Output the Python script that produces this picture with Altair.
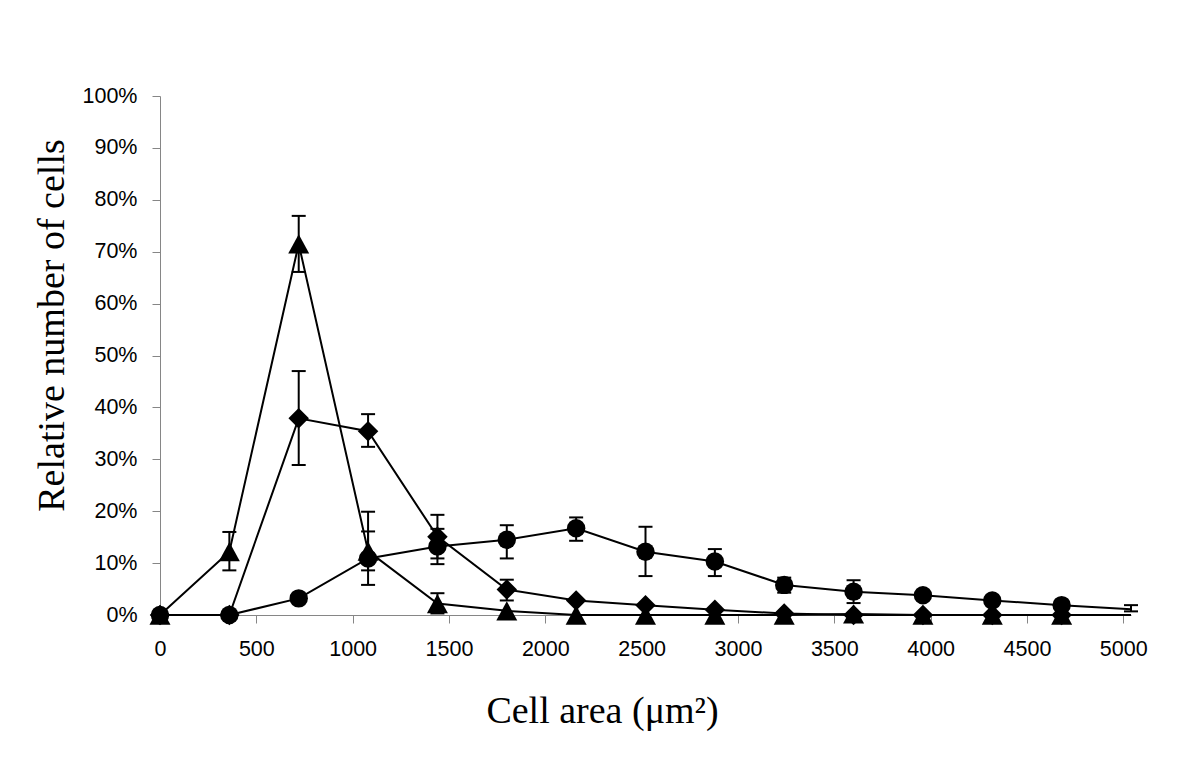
import altair as alt
import pandas as pd

# Cell area bins (µm²)
x_vals = [0, 360, 720, 1080, 1440, 1800, 2160, 2520, 2880, 3240, 3600, 3960, 4320, 4680, 5040]

# Relative number of cells (%) per series
tri_vals = [0, 12.2, 71.5, 12.3, 2.2, 0.8, 0, 0, 0, 0, 0.2, 0, 0, 0, 0]
dia_vals = [0, 0, 37.9, 35.4, 15.1, 4.9, 2.8, 1.9, 1.0, 0.3, 0, 0, 0, 0, 0]
cir_vals = [0, 0, 3.2, 10.9, 13.2, 14.5, 16.7, 12.2, 10.3, 5.8, 4.5, 3.8, 2.8, 1.9, 1.1]

# Error bar ends (low, high) in %, None where no bar is visible
tri_lo = [None, 8.6, 66.1, 8.6, 0.3, None, None, None, None, None, None, None, None, None, None]
tri_hi = [None, 16.0, 76.9, 16.1, 4.2, None, None, None, None, None, None, None, None, None, None]
dia_lo = [None, None, 28.9, 32.4, 10.9, 2.8, None, None, None, None, None, None, None, None, None]
dia_hi = [None, None, 47.0, 38.7, 19.3, 6.8, None, None, None, None, None, None, None, None, None]
cir_lo = [None, None, None, 5.8, 9.8, 10.9, 14.3, 7.5, 7.5, 4.3, 2.3, None, None, None, 0.7]
cir_hi = [None, None, None, 19.9, 16.6, 17.3, 18.8, 17.0, 12.7, 7.2, 6.7, None, None, None, 1.9]

x_ticks = [0, 500, 1000, 1500, 2000, 2500, 3000, 3500, 4000, 4500, 5000]
y_ticks = [0, 10, 20, 30, 40, 50, 60, 70, 80, 90, 100]

series = [
    ("triangle", tri_vals, tri_lo, tri_hi),
    ("diamond", dia_vals, dia_lo, dia_hi),
    ("circle", cir_vals, cir_lo, cir_hi),
]

rows, err_rows = [], []
for name, vals, lo, hi in series:
    for i, x in enumerate(x_vals):
        rows.append({"series": name, "x": x, "y": vals[i], "last": i == len(x_vals) - 1})
        if lo[i] is not None:
            err_rows.append({"series": name, "x": x, "lo": lo[i], "hi": hi[i]})

df = pd.DataFrame(rows)
edf = pd.DataFrame(err_rows)

x_axis = alt.Axis(values=x_ticks, format="d", labelFlush=False, title="Cell area (μm²)",
                  titleX=442, titleY=107, titleBaseline="alphabetic", titleAlign="center")
y_axis = alt.Axis(values=y_ticks, labelExpr="datum.value + '%'",
                  title="Relative number of cells", titleAngle=270, titleX=-97, titleY=229,
                  titleBaseline="alphabetic", titleAlign="center")
x_scale = alt.Scale(domain=[0, 5040], nice=False)
y_scale = alt.Scale(domain=[0, 100], nice=False)


def X(field):
    return alt.X(f"{field}:Q", scale=x_scale, axis=x_axis)


def Y(field):
    return alt.Y(f"{field}:Q", scale=y_scale, axis=y_axis)


lines = alt.Chart(df).mark_line(color="black", strokeWidth=2).encode(
    x=X("x"), y=Y("y"), detail="series:N", order="x:Q"
)

err_rule = alt.Chart(edf).mark_rule(color="black", strokeWidth=2).encode(
    x=X("x"), y=Y("lo"), y2="hi:Q"
)
cap_lo = alt.Chart(edf).mark_rule(color="black", strokeWidth=2, xOffset=-7, x2Offset=7).encode(
    x=X("x"), x2="x:Q", y=Y("lo")
)
cap_hi = alt.Chart(edf).mark_rule(color="black", strokeWidth=2, xOffset=-7, x2Offset=7).encode(
    x=X("x"), x2="x:Q", y=Y("hi")
)

shapes = {
    "triangle": ("M0,-0.92L1,0.92L-1,0.92Z", 440),
    "diamond": ("diamond", 420),
    "circle": ("circle", 340),
}
marker_layers = []
for name, _, _, _ in series:
    shp, size = shapes[name]
    sub = df[(df["series"] == name) & (~df["last"])]
    marker_layers.append(
        alt.Chart(sub).mark_point(shape=shp, size=size, filled=True, fill="black",
                                  stroke=None, opacity=1).encode(x=X("x"), y=Y("y"))
    )

chart = alt.layer(lines, err_rule, cap_lo, cap_hi, *marker_layers).properties(
    width=971,
    height=519,
    autosize="none",
    padding={"left": 152, "top": 88, "right": 40, "bottom": 140},
    background="white",
).configure_view(stroke=None).configure_axis(
    grid=False,
    domainColor="#868686",
    tickColor="#868686",
    domainWidth=1,
    tickWidth=1,
    tickSize=8,
    labelPadding=15,
    labelFont="Liberation Sans",
    labelFontSize=21.5,
    labelColor="black",
    titleFont="Liberation Serif",
    titleFontWeight="normal",
    titleFontSize=38,
    titleColor="black",
)

chart.save("out.html", embed_options={"renderer": "svg", "actions": False})
